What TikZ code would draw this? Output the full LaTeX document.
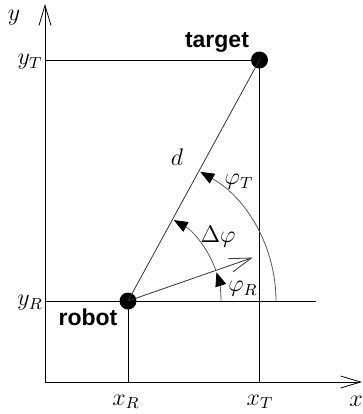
\documentclass[tikz,border=0pt]{standalone}
\usepackage{amsmath,amssymb}
\usepackage{fontspec}
\newfontfamily\labelfont{Liberation Sans}
\usepackage{tikz}
\usetikzlibrary{arrows.meta,positioning,calc}

\begin{document}
\begin{tikzpicture}[x=0.5pt,y=0.5pt,
  dot/.style={circle,fill=black,inner sep=0pt,minimum size=8.5pt},
  mathlbl/.style={inner sep=0pt,font=\fontsize{12}{14}\selectfont},
  namelbl/.style={inner sep=0pt,font=\labelfont\bfseries\fontsize{11.5}{13}\selectfont},
  axisarrow/.style={-{Straight Barb[length=10pt,width=6pt]}},
  anglearc/.style={draw=black!65,-{Triangle[length=7pt,width=5.5pt,color=black]}}]
  \useasboundingbox (0,0) rectangle (363,-414);
  % axes
  \coordinate (O) at (45,-382);
  \coordinate (ytop) at (45,-4);
  \coordinate (xend) at (362,-382);
  \draw[axisarrow] (O)--(ytop);
  \draw[axisarrow] (O)--(xend);
  % robot and target
  \node[dot] (robot) at (128,-301) {};
  \node[dot] (target) at (259.5,-60) {};
  \coordinate (yT) at (45,-60);
  \coordinate (yR) at (45,-301);
  \coordinate (yRend) at (316,-301);
  \coordinate (xR) at (128,-382);
  \coordinate (xT) at (259.5,-382);
  \draw (yT)--(target.center);
  \draw (yR)--(yRend);
  \draw (target.center)--(xT);
  \draw (robot.center)--(xR);
  \draw[black!80] (robot.center)--(target.center);
  % heading of the robot
  \coordinate (head) at ($(robot.center)+(19.2:132)$);
  \draw[black!80,-{Straight Barb[length=11pt,width=7pt]}] (robot.center)--(head);
  % angles
  \draw[anglearc] ($(robot.center)+(0:93)$) arc[start angle=0,end angle=18,radius=93];
  \draw[anglearc] ($(robot.center)+(19.2:93)$) arc[start angle=19.2,end angle=60.5,radius=93];
  \draw[anglearc] ($(robot.center)+(0:148)$) arc[start angle=0,end angle=60.8,radius=148];
  % labels
  \node[mathlbl] (ylbl) at (14,-18) {$y$};
  \node[mathlbl] (yTlbl) at (30,-62) {$y_T$};
  \node[mathlbl] (yRlbl) at (30,-303) {$y_R$};
  \node[mathlbl] (xRlbl) at (126,-402) {$x_R$};
  \node[mathlbl] (xTlbl) at (260,-402) {$x_T$};
  \node[mathlbl] (xlbl) at (356,-401) {$x$};
  \node[namelbl] (targetlbl) at (217,-42) {target};
  \node[namelbl] (robotlbl) at (88,-317) {robot};
  \node[mathlbl] (dlbl) at (177,-157) {$d$};
  \node[mathlbl] (phiTlbl) at (239,-182) {$\varphi_T$};
  \node[mathlbl] (dphilbl) at (218,-237) {$\Delta\varphi$};
  \node[mathlbl] (phiRlbl) at (243,-289) {$\varphi_R$};
\end{tikzpicture}
\end{document}
